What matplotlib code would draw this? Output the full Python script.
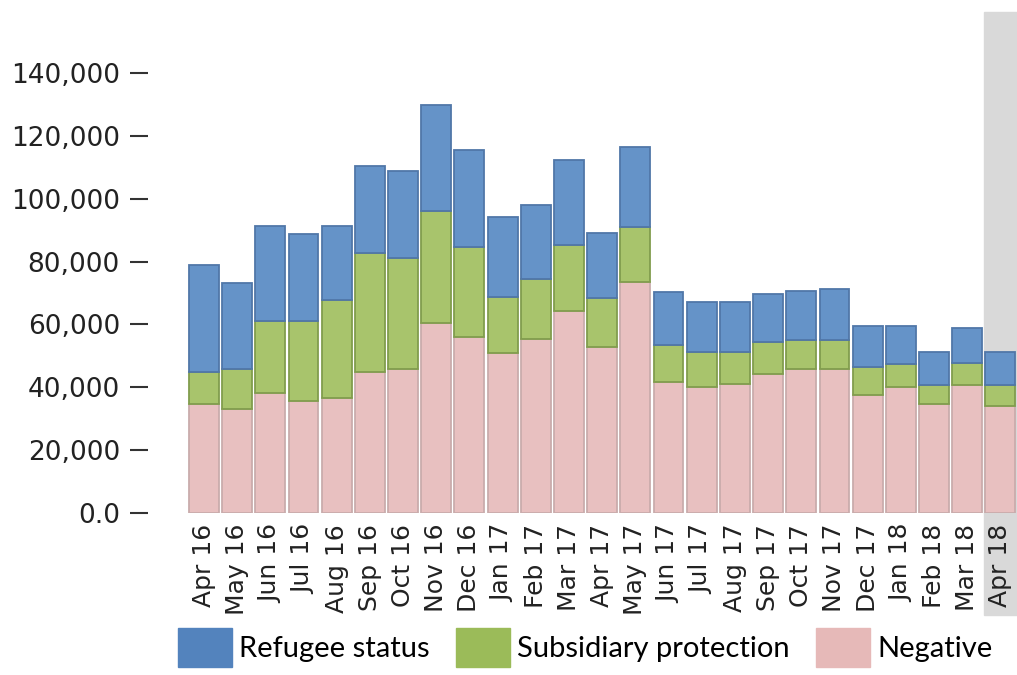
import numpy as np
import matplotlib
matplotlib.use('Agg')
import matplotlib.pyplot as plt
from matplotlib.ticker import FuncFormatter

# monthly asylum decisions, stacked by outcome
months = ['Apr 16', 'May 16', 'Jun 16', 'Jul 16', 'Aug 16', 'Sep 16', 'Oct 16',
          'Nov 16', 'Dec 16', 'Jan 17', 'Feb 17', 'Mar 17', 'Apr 17', 'May 17',
          'Jun 17', 'Jul 17', 'Aug 17', 'Sep 17', 'Oct 17', 'Nov 17', 'Dec 17',
          'Jan 18', 'Feb 18', 'Mar 18', 'Apr 18']

negative = [34800, 33200, 38200, 35700, 36600, 44900, 45700, 60600, 56100,
            51000, 55200, 64300, 52700, 73600, 41500, 39900, 41000, 44200,
            45700, 45800, 37400, 39900, 34800, 40700, 34100]
subsidiary = [10100, 12500, 22900, 25400, 31100, 37900, 35500, 35600, 28600,
              17600, 19200, 21000, 15600, 17500, 11900, 11200, 10300, 10100,
              9300, 9200, 9100, 7500, 5900, 7100, 6600]
refugee = [34000, 27400, 30300, 27700, 23600, 27600, 27800, 33600, 31000,
           25700, 23600, 27000, 20700, 25500, 17000, 16100, 15900, 15400,
           15600, 16200, 13100, 12200, 10600, 10900, 10400]

c_neg = '#e8c0c0'
c_sub = '#a8c46c'
c_ref = '#6593c8'

fig = plt.figure(figsize=(10.17, 6.75), dpi=100)
ax = fig.add_axes([188 / 1017, 0.2404, 829 / 1017, 0.744])

x = np.arange(len(months))
w = 0.9
neg = np.array(negative)
sub = np.array(subsidiary)
ref = np.array(refugee)

ax.bar(x, neg, w, color=c_neg, edgecolor='#c9acac', linewidth=1.3, zorder=2)
ax.bar(x, sub, w, bottom=neg, color=c_sub, edgecolor='#819d4d', linewidth=1.3, zorder=2)
ax.bar(x, ref, w, bottom=neg + sub, color=c_ref, edgecolor='#5077a8', linewidth=1.3, zorder=2)

# highlight of the latest month, reaching down over its label
ax.axvspan(23.5, 24.6, ymin=-0.204, ymax=0.997, color='#d9d9d9', zorder=0,
           clip_on=False)

ax.set_xlim(-0.48, 24.5)
ax.set_ylim(0, 160000)
ax.set_yticks(np.arange(0, 140001, 20000))
ax.yaxis.set_major_formatter(FuncFormatter(lambda v, p: '0.0' if v == 0 else f'{int(v):,}'))
ax.set_xticks(x)
ax.set_xticklabels(months, rotation=90)

for s in ax.spines.values():
    s.set_visible(False)
ax.spines['left'].set_position(('outward', 29))
ax.tick_params(axis='y', length=13, width=1.5, color='#333333', pad=7,
               labelsize=19, labelcolor='#222222')
ax.tick_params(axis='x', length=0, pad=8, labelsize=18, labelcolor='#222222')

handles = [plt.Rectangle((0, 0), 1, 1, color='#5383bd'),
           plt.Rectangle((0, 0), 1, 1, color='#9bbb59'),
           plt.Rectangle((0, 0), 1, 1, color='#e6b9b8')]
fig.legend(handles, ['Refugee status', 'Subsidiary protection', 'Negative'],
           loc='upper left', bbox_to_anchor=(178 / 1017, 1 - 628 / 675),
           ncol=3, frameon=False, borderpad=0, borderaxespad=0,
           handlelength=1.85, handleheight=1.7, handletextpad=0.25,
           columnspacing=0.9, prop={'family': 'Lato', 'size': 21})

fig.savefig('out.png', dpi=100)
